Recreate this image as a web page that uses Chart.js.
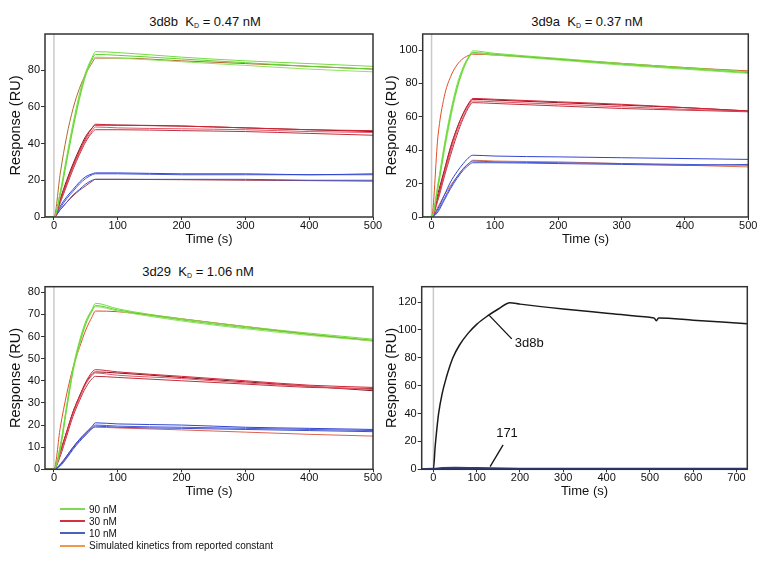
<!DOCTYPE html>
<html lang="en">
<head>
  <meta charset="UTF-8">
  <title>Binding kinetics</title>
  <script src="https://cdn.jsdelivr.net/npm/chart.js"></script>
  <style>
    body {
      margin: 0;
      width: 763px;
      height: 561px;
      position: relative;
      overflow: hidden;
      background: #fff;
      font-family: "Liberation Sans", Arial, sans-serif;
      color: #111;
    }

    canvas {
      position: absolute;
    }

    .title {
      position: absolute;
      font-size: 13px;
      line-height: 16px;
      white-space: nowrap;
      transform: translateX(-50%);
    }

    .title sub {
      font-size: 7px;
      vertical-align: -2px;
    }

    .legend {
      position: absolute;
      left: 60px;
      top: 503px;
      font-size: 10px;
    }

    .legend .row {
      display: flex;
      align-items: center;
      height: 12.2px;
    }

    .legend .sw {
      width: 25px;
      height: 2px;
      margin-right: 4px;
    }
  </style>
</head>

<body>
  <div class="title" style="left:205px; top:14px">3d8b&nbsp; K<sub>D</sub> = 0.47 nM</div>
  <div class="title" style="left:587px; top:14px">3d9a&nbsp; K<sub>D</sub> = 0.37 nM</div>
  <div class="title" style="left:198px; top:264px">3d29&nbsp; K<sub>D</sub> = 1.06 nM</div>

  <canvas id="c8b" width="392" height="255" style="left:0; top:0"></canvas>
  <canvas id="c29" width="392" height="255" style="left:0; top:255px"></canvas>
  <canvas id="c9a" width="383" height="255" style="left:380px; top:0"></canvas>
  <canvas id="cCmp" width="383" height="255" style="left:380px; top:255px"></canvas>

  <div class="legend" id="legend"></div>

  <script>
    // ---- data ----
    const time = [-14, 0, 10, 20, 30, 40, 50, 60, 65, 100, 200, 300, 400, 500];
    const xTicks500 = [0, 100, 200, 300, 400, 500];

    // 3d8b
    const d8bGreen = [
      [0, 0, 14, 33, 51, 67, 79, 87, 90, 89.5, 87, 85, 83.5, 82],
      [0, 0, 13, 31, 49, 65, 78, 86, 88.5, 88, 86, 84, 82, 80.5],
      [0, 0, 12, 30, 48, 64, 77, 85.5, 87, 86.5, 84.5, 82.5, 80.5, 79]
    ];
    const d8bRed = [
      [0, 0, 9, 19, 28, 36, 43, 48.5, 50.5, 50, 49.5, 48.5, 47.5, 47],
      [0, 0, 8, 18, 27, 35, 42, 47, 49, 48.5, 48, 47.5, 46.5, 46],
      [0, 0, 8, 17, 26, 34, 41, 46, 47.5, 47.5, 47, 46.5, 45.5, 44.5]
    ];
    const d8bBlue = [
      [0, 0, 6, 11, 15, 19, 22, 23.5, 24, 24, 23.5, 23.5, 23, 23.5],
      [0, 0, 5, 10, 14, 18, 21, 23, 23.5, 23.5, 23, 23, 23, 23],
      [0, 0, 4, 8, 12, 15, 18, 20, 20.5, 20.5, 20.5, 20.5, 20, 20]
    ];
    const d8bSim = [
      [0, 0, 24, 44, 59, 70, 78, 84, 86.5, 86.5, 85, 83.5, 82, 80.5],
      [0, 0, 10, 20, 29, 37, 44, 48.5, 50, 50, 49.5, 48.5, 47.5, 46.5],
      [0, 0, 4, 8, 11.5, 14.5, 17, 19.5, 20.5, 20.5, 20.3, 20, 19.8, 19.5]
    ];

    // 3d9a
    const d9aGreen = [
      [0, 0, 20, 43, 63, 79, 90, 97, 99.5, 98, 95, 92, 89.5, 87],
      [0, 0, 18, 41, 61, 77, 89, 96.5, 98.5, 97.5, 94.5, 91.5, 89, 86.5],
      [0, 0, 17, 39, 59, 76, 88, 96, 98, 97, 94, 91, 88.5, 86]
    ];
    const d9aRed = [
      [0, 0, 12, 27, 41, 53, 62, 69, 71, 70.5, 69, 67.5, 65.5, 63.5],
      [0, 0, 11, 25, 39, 51, 60, 67.5, 69.5, 69, 67.5, 66, 64.5, 63.3],
      [0, 0, 10, 24, 37, 49, 59, 66.5, 68.5, 68, 66.5, 65, 64, 63]
    ];
    const d9aBlue = [
      [0, 0, 5, 13, 21, 27, 32, 36, 37, 36.5, 36, 35.5, 35, 34.5],
      [0, 0, 4, 11, 18, 24, 29, 32.5, 33.5, 33, 32.5, 32, 31.5, 31],
      [0, 0, 3, 10, 17, 23, 28, 31.5, 32.5, 32.5, 32, 31.5, 31, 31.5]
    ];
    const d9aSim = [
      [0, 0, 48, 72, 84, 91, 95, 97, 97.5, 97, 94.5, 92, 89.5, 87.5],
      [0, 0, 14, 28, 42, 53, 62, 68.5, 70.5, 70, 68.5, 67, 65.5, 63.5],
      [0, 0, 6, 13, 19, 24, 29, 32.5, 34, 33.5, 33, 32, 31, 30]
    ];

    // 3d29
    const d29Green = [
      [0, 0, 11, 29, 46, 58, 67, 72.5, 75, 72.5, 68, 64.5, 61.5, 58.8],
      [0, 0, 10, 28, 45, 57, 66, 72, 74, 72, 67.5, 64, 61, 58.3],
      [0, 0, 9, 27, 44, 56, 65.5, 71.5, 73.5, 71.5, 67, 63.5, 60.5, 58]
    ];
    const d29Red = [
      [0, 0, 8, 17, 26, 33, 39.5, 44, 45, 44, 42, 40, 38, 37],
      [0, 0, 7, 16, 25, 32, 38.5, 42.5, 43.5, 42.5, 41, 39, 37.5, 36],
      [0, 0, 6, 15, 24, 31, 37, 41, 42, 41.5, 40, 38.5, 37, 36.5]
    ];
    const d29Blue = [
      [0, 0, 2, 6, 10, 13.5, 16.5, 19.5, 21, 20.5, 20, 19, 18.5, 18],
      [0, 0, 2, 5.5, 9.5, 13, 16, 19, 20, 19.5, 19, 18.5, 18, 17.5],
      [0, 0, 1.5, 5, 9, 12.5, 15.5, 18.5, 19.5, 19, 18.5, 18, 17.5, 17]
    ];
    const d29Sim = [
      [0, 0, 19, 34, 46, 55, 63, 69, 71.5, 71.2, 68, 64.5, 61, 58],
      [0, 0, 8, 17, 26, 33, 39, 43, 44, 43.5, 41.5, 39.5, 37.5, 35.5],
      [0, 0, 2.5, 6, 10, 13.5, 16.5, 18.5, 19, 18.7, 17.8, 16.8, 15.8, 15]
    ];

    // 3d8b vs 171 comparison
    const cmpTime = [-27, 0, 4, 8, 12, 20, 30, 45, 60, 80, 100, 125, 150, 177, 200, 300, 400, 500, 510, 515, 520, 600, 700, 725];
    const cmp3d8b = [0, 0, 16, 29, 40, 54, 66, 80, 89, 97.5, 104, 110, 115, 119.5, 118.5, 115, 112, 109, 108.5, 106.5, 108.5, 107, 105, 104.5];
    const cmp171Time = [-27, 0, 20, 50, 100, 200, 400, 600, 725];
    const cmp171 = [0.2, 0.3, 0.8, 1, 0.8, 0.4, 0.3, 0.3, 0.3];
    const cmpXTicks = [0, 100, 200, 300, 400, 500, 600, 700];
    const cmpNotes = [
      { text: '3d8b', from: [129, 110.4], to: [181, 93.6], at: [188, 90] },
      { text: '171', from: [131, 1.9], to: [161, 17.5], at: [170, 25.5], center: true }
    ];

    const legendItems = [
      ['90 nM', '#7fd858'],
      ['30 nM', '#d1343a'],
      ['10 nM', '#4a62b8'],
      ['Simulated kinetics from reported constant', '#ef9a4a']
    ];

    // ---- chart helpers ----
    Chart.defaults.font.family = '"Liberation Sans", Arial, sans-serif';
    Chart.defaults.color = '#111';

    function series(times, values, color, width) {
      return {
        data: times.map((t, i) => ({ x: t, y: values[i] })),
        borderColor: color,
        borderWidth: width || 1,
        pointRadius: 0,
        fill: false,
        cubicInterpolationMode: 'monotone'
      };
    }

    // light grey line at injection start + black box round the plot
    const frame = {
      id: 'frame',
      beforeDatasetsDraw(chart) {
        const { ctx, chartArea: a, scales: { x } } = chart;
        const x0 = x.getPixelForValue(0);
        ctx.save();
        ctx.strokeStyle = '#c9c9c9';
        ctx.lineWidth = 1.5;
        ctx.beginPath();
        ctx.moveTo(x0, a.top);
        ctx.lineTo(x0, a.bottom);
        ctx.stroke();
        ctx.restore();
      },
      afterDraw(chart) {
        const { ctx, chartArea: a } = chart;
        ctx.save();
        ctx.strokeStyle = '#333';
        ctx.lineWidth = 1.5;
        ctx.strokeRect(a.left, a.top, a.width, a.height);
        ctx.restore();
      }
    };

    const notes = {
      id: 'notes',
      afterDatasetsDraw(chart, args, opts) {
        if (!opts.items) return;
        const { ctx, scales: { x, y } } = chart;
        ctx.save();
        ctx.strokeStyle = '#111';
        ctx.fillStyle = '#111';
        ctx.lineWidth = 1.3;
        ctx.font = '13px "Liberation Sans", Arial, sans-serif';
        ctx.textBaseline = 'middle';
        opts.items.forEach(n => {
          ctx.beginPath();
          ctx.moveTo(x.getPixelForValue(n.from[0]), y.getPixelForValue(n.from[1]));
          ctx.lineTo(x.getPixelForValue(n.to[0]), y.getPixelForValue(n.to[1]));
          ctx.stroke();
          ctx.textAlign = n.center ? 'center' : 'left';
          ctx.fillText(n.text, x.getPixelForValue(n.at[0]), y.getPixelForValue(n.at[1]));
        });
        ctx.restore();
      }
    };

    function makePanel(id, p) {
      return new Chart(document.getElementById(id), {
        type: 'line',
        data: { datasets: p.datasets },
        plugins: [frame, notes],
        options: {
          responsive: false,
          animation: false,
          devicePixelRatio: 1,
          layout: { padding: { top: p.top, right: p.right, left: 0, bottom: 0 } },
          plugins: {
            legend: { display: false },
            tooltip: { enabled: false },
            notes: { items: p.notes }
          },
          scales: {
            x: {
              type: 'linear',
              min: p.xMin,
              max: p.xMax,
              afterBuildTicks: s => { s.ticks = p.xTicks.map(v => ({ value: v })); },
              afterFit: s => { s.height = p.xH; },
              grid: { drawOnChartArea: false, tickLength: 3, color: '#333' },
              border: { display: false },
              ticks: { font: { size: 11 }, padding: -1, maxRotation: 0 },
              title: { display: true, text: 'Time (s)', font: { size: 13 }, padding: { top: 0, bottom: p.xTitlePad } }
            },
            y: {
              min: 0,
              max: p.yMax,
              afterBuildTicks: s => { s.ticks = p.yTicks.map(v => ({ value: v })); },
              afterFit: s => { s.width = p.yW; },
              grid: { drawOnChartArea: false, tickLength: 4, color: '#333' },
              border: { display: false },
              ticks: { font: { size: 11 }, padding: 1 },
              title: { display: true, text: 'Response (RU)', font: { size: 14.5 }, padding: { top: p.yTitlePad, bottom: 0 } }
            }
          }
        }
      });
    }

    function kineticSets(green, red, blue, sim, colors) {
      const sets = [];
      green.forEach((v, i) => sets.push(series(time, v, colors.green[i])));
      red.forEach((v, i) => sets.push(series(time, v, colors.red[i])));
      blue.forEach((v, i) => sets.push(series(time, v, colors.blue[i])));
      sim.forEach((v, i) => sets.push(series(time, v, colors.sim[i])));
      return sets;
    }

    const repColors = {
      green: ['#74dc3f', '#5fd133', '#8ee35f'],
      red: ['#cf2536', '#e05567', '#c0303d'],
      blue: ['#3346d0', '#4a5bd8', '#4051c6']
    };

    makePanel('c8b', {
      datasets: kineticSets(d8bGreen, d8bRed, d8bBlue, d8bSim,
        Object.assign({ sim: ['#b06a28', '#7a1418', '#a04050'] }, repColors)),
      top: 34, right: 19, yW: 45, xH: 38,
      xMin: -14, xMax: 500, xTicks: xTicks500,
      yMax: 99.6, yTicks: [0, 20, 40, 60, 80],
      xTitlePad: 8, yTitlePad: 7
    });

    makePanel('c9a', {
      datasets: kineticSets(d9aGreen, d9aRed, d9aBlue, d9aSim,
        Object.assign({ sim: ['#e0502a', '#8a1218', '#e0704a'] }, repColors)),
      top: 34, right: 14.7, yW: 42.7, xH: 38,
      xMin: -14, xMax: 500, xTicks: xTicks500,
      yMax: 109.6, yTicks: [0, 20, 40, 60, 80, 100],
      xTitlePad: 8, yTitlePad: 3
    });

    makePanel('c29', {
      datasets: kineticSets(d29Green, d29Red, d29Blue, d29Sim,
        Object.assign({ sim: ['#e0502a', '#8a1218', '#e06050'] }, repColors)),
      top: 31.7, right: 19, yW: 45, xH: 40.7,
      xMin: -14, xMax: 500, xTicks: xTicks500,
      yMax: 82.5, yTicks: [0, 10, 20, 30, 40, 50, 60, 70, 80],
      xTitlePad: 11, yTitlePad: 7
    });

    makePanel('cCmp', {
      datasets: [
        series(cmp171Time, cmp171, '#2c3b8c', 2.2),
        series(cmpTime, cmp3d8b, '#1a1a1a', 1.5)
      ],
      notes: cmpNotes,
      top: 31.7, right: 15.7, yW: 41.7, xH: 40.7,
      xMin: -27, xMax: 725, xTicks: cmpXTicks,
      yMax: 131, yTicks: [0, 20, 40, 60, 80, 100, 120],
      xTitlePad: 11, yTitlePad: 3
    });

    // ---- legend ----
    const legend = document.getElementById('legend');
    legendItems.forEach(([label, color]) => {
      const row = document.createElement('div');
      row.className = 'row';
      row.innerHTML = `<span class="sw" style="background:${color}"></span>${label}`;
      legend.appendChild(row);
    });
  </script>
</body>

</html>
